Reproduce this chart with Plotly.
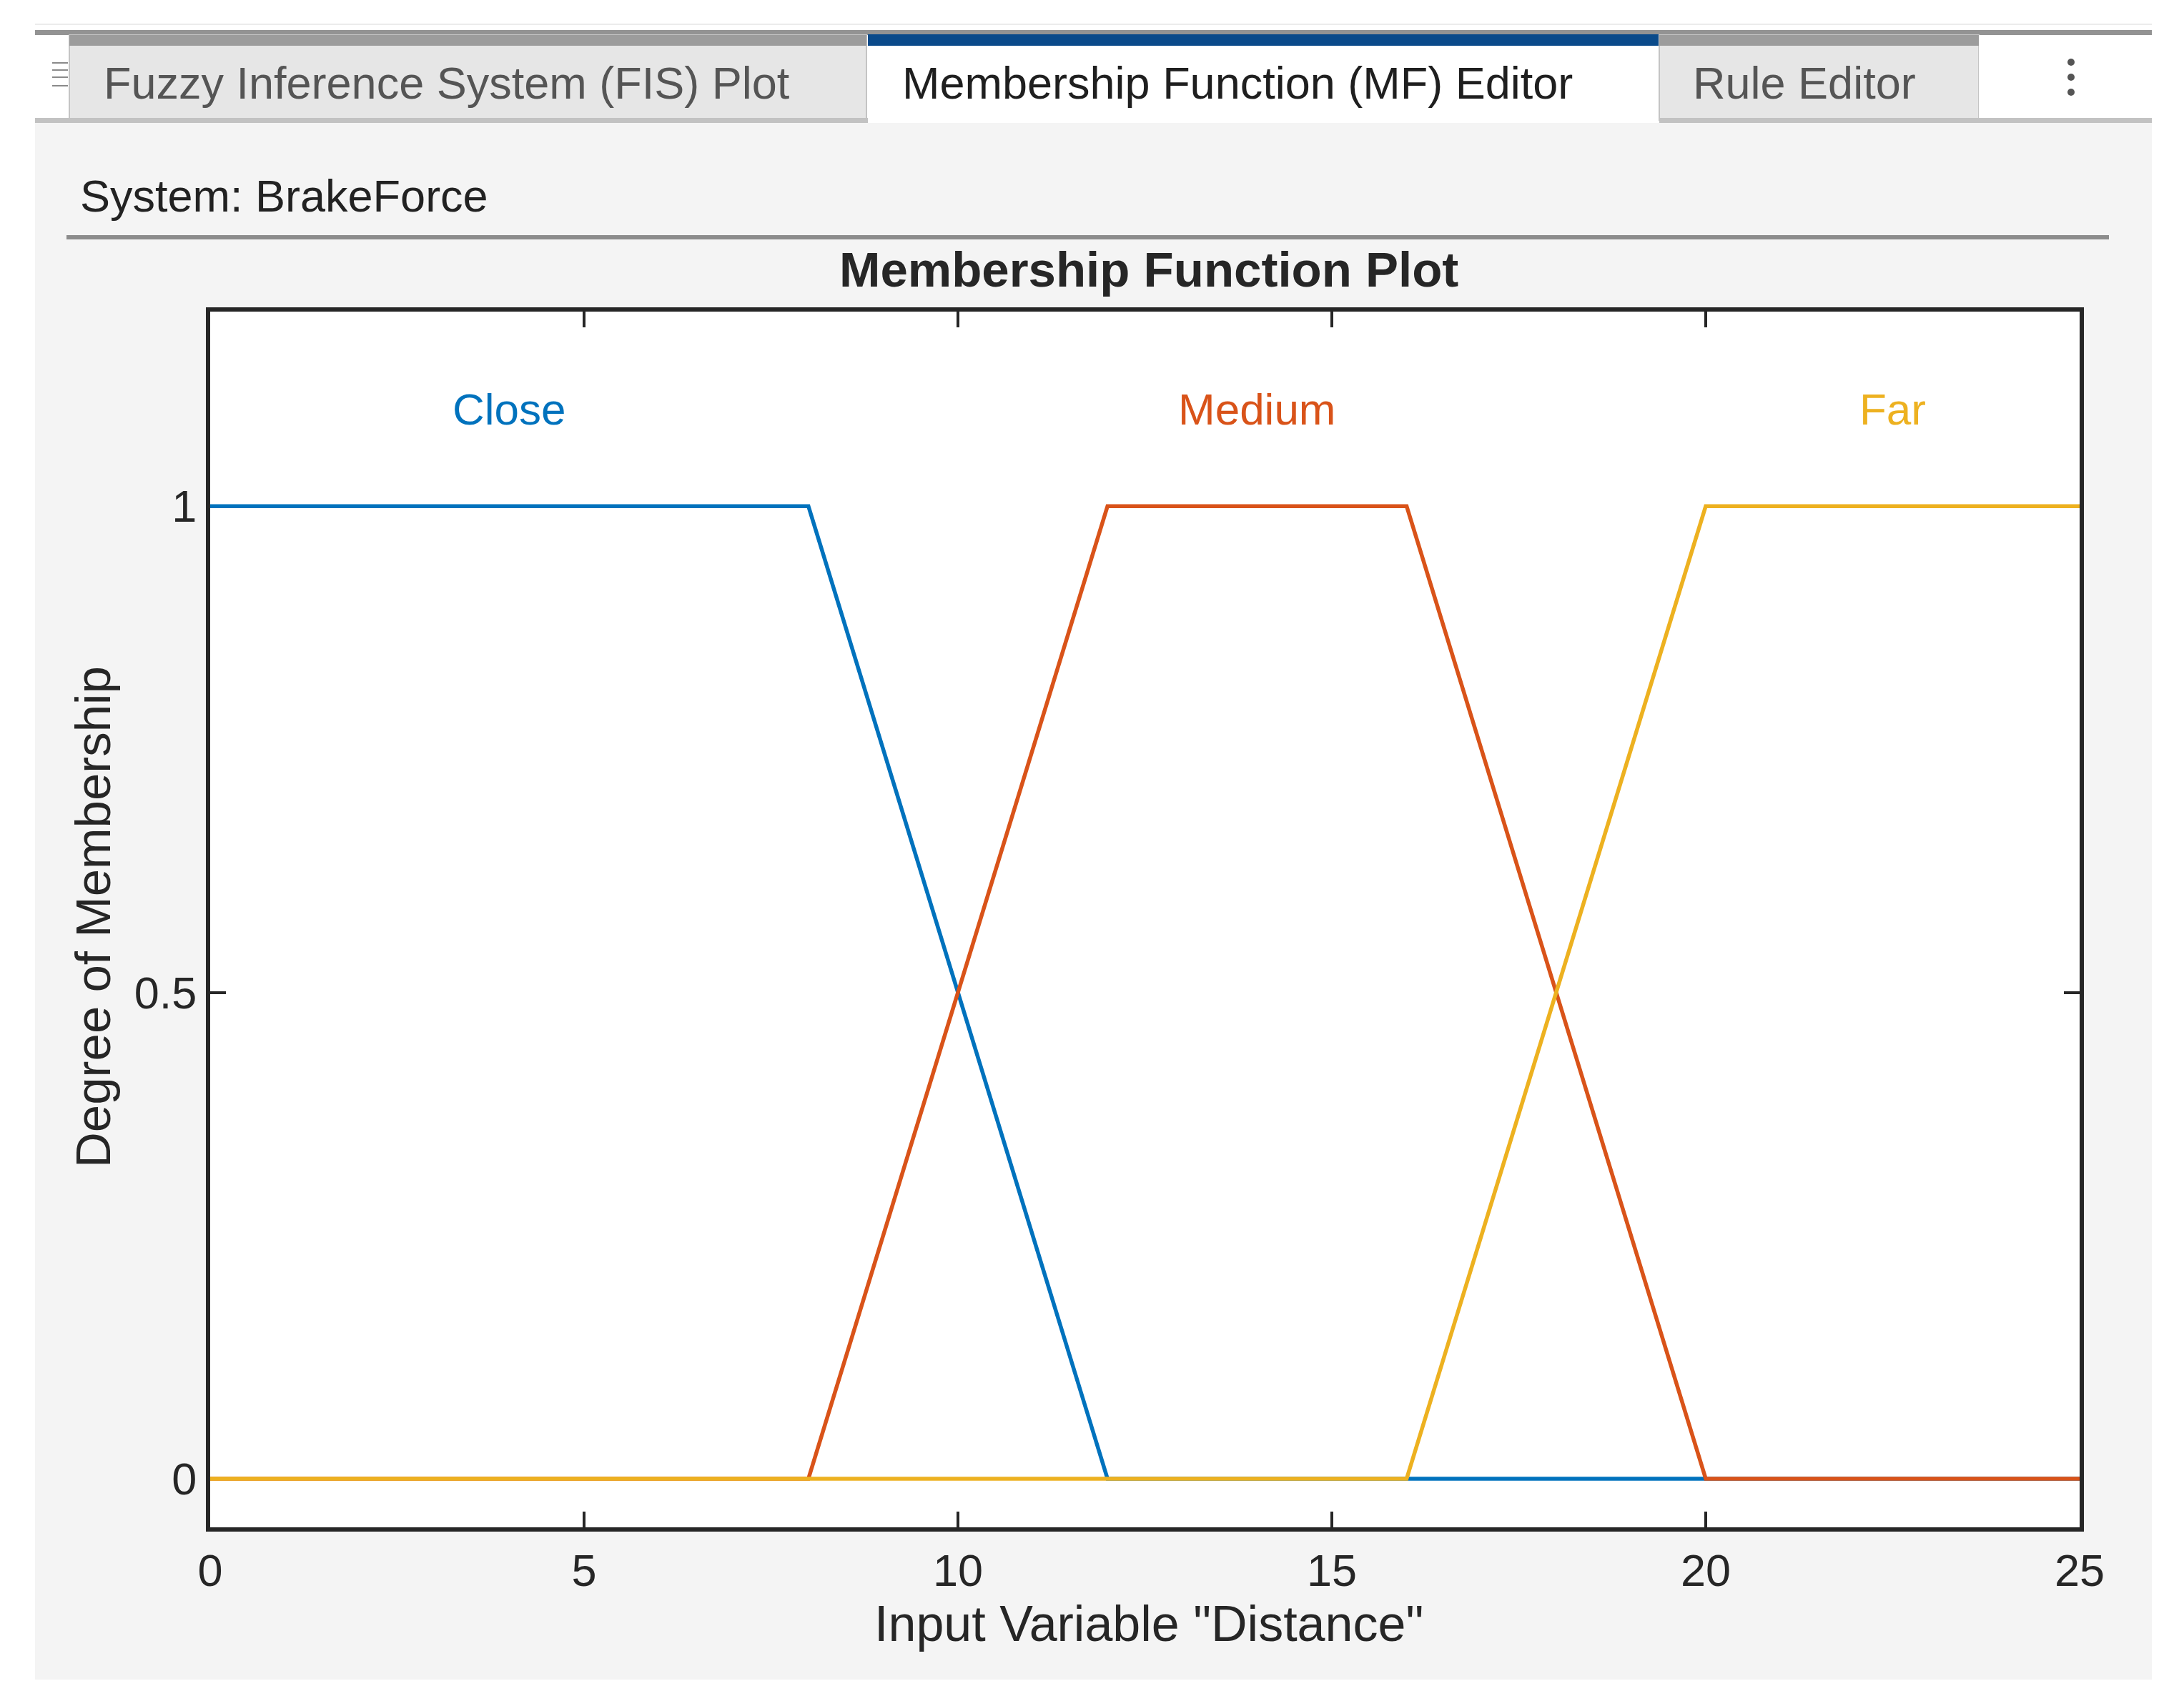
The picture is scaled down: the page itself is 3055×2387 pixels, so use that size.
import plotly.graph_objects as go

# membership functions of input "Distance"
mf_names = ["Close", "Medium", "Far"]
close_x = [0, 8, 12, 25]
close_y = [1, 1, 0, 0]
medium_x = [0, 8, 12, 16, 20, 25]
medium_y = [0, 0, 1, 1, 0, 0]
far_x = [0, 16, 20, 25]
far_y = [0, 0, 1, 1]

x_ticks = [0, 5, 10, 15, 20, 25]
y_ticks = [0, 0.5, 1]
y_tick_text = ["0", "0.5", "1"]

tab_labels = ["Fuzzy Inference System (FIS) Plot", "Membership Function (MF) Editor", "Rule Editor"]
system_name = "System: BrakeForce"
plot_title = "Membership Function Plot"
x_title = 'Input Variable "Distance"'
y_title = "Degree of Membership"

COLORS = ["#0072BD", "#D95319", "#EDB120"]
FONT = "Liberation Sans, Arial, sans-serif"
AX = "#262626"

W, H = 3055, 2387
L, R, T, B = 294, 2909, 436, 2137


def px_x(px):
    return (px - L) / (R - L)


def px_y(py):
    return (B - py) / (B - T)


shapes = []


def rect(x0, y0, x1, y1, color, line=None):
    shapes.append(dict(type="rect", xref="paper", yref="paper", layer="below",
                       x0=px_x(x0), x1=px_x(x1), y0=px_y(y0), y1=px_y(y1),
                       fillcolor=color, line=dict(width=0) if line is None else line))


def hline(x0, x1, y, color, width):
    shapes.append(dict(type="line", xref="paper", yref="paper", layer="above",
                       x0=px_x(x0), x1=px_x(x1), y0=px_y(y), y1=px_y(y),
                       line=dict(color=color, width=width)))


# grey panel + white plot area
rect(49, 170, 3010, 2350, "#f4f4f4")
rect(L, T, R, B, "#ffffff")

# tab strip
hline(49, 3010, 34, "#ececec", 2)
rect(49, 42, 3010, 49, "#939393")
rect(49, 49, 97, 168, "#ffffff")
rect(97, 49, 1212, 168, "#e6e6e6", dict(color="#c4c4c4", width=2))
rect(97, 49, 1212, 64, "#9c9c9c")
rect(1214, 49, 2321, 172, "#ffffff")
rect(1214, 48, 2321, 64, "#0a4a8a")
rect(2321, 49, 2768, 168, "#e6e6e6", dict(color="#c4c4c4", width=2))
rect(2321, 49, 2768, 64, "#9c9c9c")
rect(2768, 49, 3010, 168, "#ffffff")
rect(49, 165, 1214, 172, "#c2c2c2")
rect(2321, 165, 3010, 172, "#c2c2c2")
for yy in [88, 98, 108, 120]:
    hline(73, 95, yy, "#8a8a8a", 2)
for yy in [87, 108, 129]:
    shapes.append(dict(type="circle", xref="paper", yref="paper", layer="above",
                       x0=px_x(2892), x1=px_x(2902), y0=px_y(yy - 5), y1=px_y(yy + 5),
                       fillcolor="#555555", line=dict(width=0)))

# separator under system name
hline(93, 2950, 332, "#8c8c8c", 6)

fig = go.Figure()
for name, xs, ys, col in zip(mf_names, [close_x, medium_x, far_x], [close_y, medium_y, far_y], COLORS):
    fig.add_trace(go.Scatter(x=xs, y=ys, mode="lines", name=name, cliponaxis=False,
                             line=dict(color=col, width=5.5), showlegend=False))

annotations = []
# labels centred over each plateau
for name, xs, ys, col in zip(mf_names, [close_x, medium_x, far_x], [close_y, medium_y, far_y], COLORS):
    top = [x for x, y in zip(xs, ys) if y == 1]
    annotations.append(dict(x=(min(top) + max(top)) / 2, y=1.1, xref="x", yref="y", text=name,
                            showarrow=False, font=dict(family=FONT, size=62, color=col)))

tab_x = [143, 1260, 2366]
tab_col = ["#555555", "#1f1f1f", "#555555"]
for txt, tx, tc in zip(tab_labels, tab_x, tab_col):
    annotations.append(dict(x=px_x(tx), y=px_y(116), xref="paper", yref="paper", text=txt,
                            xanchor="left", yanchor="middle", showarrow=False,
                            font=dict(family=FONT, size=63, color=tc)))

annotations.append(dict(x=px_x(110), y=px_y(274), xref="paper", yref="paper", text=system_name,
                        xanchor="left", yanchor="middle", showarrow=False,
                        font=dict(family=FONT, size=63, color="#222222")))
annotations.append(dict(x=px_x(1607), y=px_y(378), xref="paper", yref="paper",
                        text="<b>" + plot_title + "</b>", xanchor="center", yanchor="middle",
                        showarrow=False, font=dict(family=FONT, size=69, color=AX)))
annotations.append(dict(x=px_x(1607), y=px_y(2272), xref="paper", yref="paper", text=x_title,
                        xanchor="center", yanchor="middle", showarrow=False,
                        font=dict(family=FONT, size=70, color=AX)))
annotations.append(dict(x=px_x(130), y=px_y(1283), xref="paper", yref="paper", text=y_title,
                        textangle=-90, xanchor="center", yanchor="middle", showarrow=False,
                        font=dict(family=FONT, size=69, color=AX)))

axis_style = dict(showline=True, linecolor=AX, linewidth=6, mirror="ticks",
                  ticks="inside", ticklen=22, tickwidth=4, tickcolor=AX,
                  showgrid=False, zeroline=False, layer="below traces",
                  tickfont=dict(family=FONT, size=63, color=AX))

fig.update_layout(
    width=W, height=H, autosize=False,
    margin=dict(l=L, r=W - R, t=T, b=H - B, pad=0),
    paper_bgcolor="#ffffff", plot_bgcolor="#ffffff",
    shapes=shapes, annotations=annotations,
    xaxis=dict(range=[0, 25], tickvals=x_ticks, **axis_style),
    yaxis=dict(range=[-0.05, 1.2], tickvals=y_ticks, ticktext=y_tick_text, **axis_style),
)

fig.write_html("out.html", config={"displayModeBar": False},
               post_script="document.body.style.margin='0';")
